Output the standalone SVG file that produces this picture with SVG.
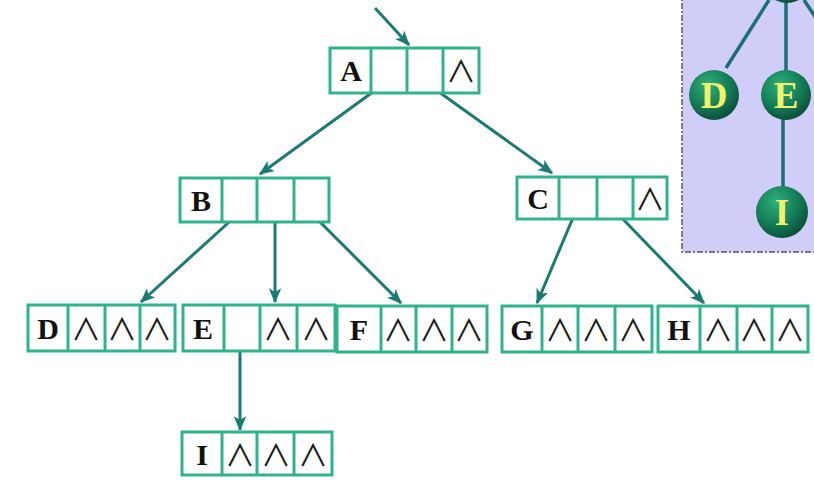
<svg xmlns="http://www.w3.org/2000/svg" width="814" height="490" viewBox="0 0 814 490">
<style>
.box{fill:#fff;stroke:#2fb38d;stroke-width:3}
.div{stroke:#2fb38d;stroke-width:3}
.lbl{font-family:"Liberation Serif",serif;font-weight:bold;font-size:30px;fill:#111;text-anchor:middle}
.nil{font-family:"Noto Sans CJK SC",sans-serif;font-weight:400;font-size:30px;fill:#1a1a1a;text-anchor:middle}
.ar{stroke:#1b7a72;stroke-width:3;fill:none;marker-end:url(#ah)}
.tl{stroke:#1b6f75;stroke-width:3.5}
.ball{fill:url(#g)}
.bl{font-family:"Liberation Serif",serif;font-weight:bold;font-size:37px;fill:#f2f26a;text-anchor:middle}
</style>
<defs>
<marker id="ah" viewBox="0 0 12 10" refX="11" refY="5" markerWidth="5" markerHeight="4.5" orient="auto" markerUnits="strokeWidth">
<path d="M0,0 L12,5 L0,10 L3,5 Z" fill="#1b7a72"/>
</marker>
<radialGradient id="g" cx="0.38" cy="0.3" r="0.75">
<stop offset="0" stop-color="#2fb07a"/>
<stop offset="0.6" stop-color="#137a55"/>
<stop offset="1" stop-color="#0a4b38"/>
</radialGradient>
</defs>
<rect width="814" height="490" fill="#fff"/>
<g id="panel">
<rect x="682" y="-5" width="140" height="257" fill="#d0cef9" stroke="#555" stroke-width="1.5" stroke-dasharray="6,2,2,2"/>
<line class="tl" x1="726" y1="68" x2="769" y2="0"/>
<line class="tl" x1="786" y1="0" x2="786" y2="72"/>
<line class="tl" x1="804" y1="0" x2="816" y2="18"/>
<line class="tl" x1="783" y1="115" x2="783" y2="190"/>
<circle class="ball" cx="787" cy="-22" r="25"/>
<circle class="ball" cx="714" cy="95" r="25"/>
<text class="bl" x="714" y="108">D</text>
<circle class="ball" cx="786" cy="95" r="25"/>
<text class="bl" x="786" y="108">E</text>
<circle class="ball" cx="782" cy="212" r="26"/>
<text class="bl" x="782" y="225">I</text>
</g>
<g id="connectors">
<line class="ar" x1="375" y1="8" x2="409" y2="45"/>
<line class="ar" x1="388" y1="81" x2="260" y2="174"/>
<line class="ar" x1="425" y1="82" x2="552" y2="173"/>
<line class="ar" x1="238" y1="214" x2="141" y2="302"/>
<line class="ar" x1="275" y1="214" x2="275" y2="302"/>
<line class="ar" x1="312" y1="214" x2="401" y2="303"/>
<line class="ar" x1="575" y1="213" x2="537" y2="303"/>
<line class="ar" x1="617" y1="213" x2="704" y2="303"/>
<line class="ar" x1="240" y1="341" x2="240" y2="430"/>
</g>
<g id="A">
<rect class="box" x="330" y="48" width="149" height="45"/>
<line class="div" x1="371" y1="48" x2="371" y2="93"/><line class="div" x1="407" y1="48" x2="407" y2="93"/><line class="div" x1="443" y1="48" x2="443" y2="93"/>
<text class="lbl" x="351" y="81">A</text><text class="nil" x="461" y="82">∧</text>
</g>
<g id="B">
<rect class="box" x="180" y="178" width="149" height="44"/>
<line class="div" x1="222" y1="178" x2="222" y2="222"/><line class="div" x1="257" y1="178" x2="257" y2="222"/><line class="div" x1="294" y1="178" x2="294" y2="222"/>
<text class="lbl" x="201" y="211">B</text>
</g>
<g id="C">
<rect class="box" x="517" y="177" width="150" height="42"/>
<line class="div" x1="559" y1="177" x2="559" y2="219"/><line class="div" x1="597" y1="177" x2="597" y2="219"/><line class="div" x1="633" y1="177" x2="633" y2="219"/>
<text class="lbl" x="538" y="209">C</text><text class="nil" x="650" y="210">∧</text>
</g>
<g id="D">
<rect class="box" x="28" y="305" width="147" height="46"/>
<line class="div" x1="68" y1="305" x2="68" y2="351"/><line class="div" x1="105" y1="305" x2="105" y2="351"/><line class="div" x1="140" y1="305" x2="140" y2="351"/>
<text class="lbl" x="48" y="339">D</text><text class="nil" x="86" y="340">∧</text><text class="nil" x="122" y="340">∧</text><text class="nil" x="157" y="340">∧</text>
</g>
<g id="E">
<rect class="box" x="183" y="305" width="152" height="46"/>
<line class="div" x1="224" y1="305" x2="224" y2="351"/><line class="div" x1="260" y1="305" x2="260" y2="351"/><line class="div" x1="297" y1="305" x2="297" y2="351"/>
<text class="lbl" x="203" y="339">E</text><text class="nil" x="278" y="340">∧</text><text class="nil" x="316" y="340">∧</text>
</g>
<g id="F">
<rect class="box" x="337" y="306" width="150" height="46"/>
<line class="div" x1="381" y1="306" x2="381" y2="352"/><line class="div" x1="416" y1="306" x2="416" y2="352"/><line class="div" x1="452" y1="306" x2="452" y2="352"/>
<text class="lbl" x="359" y="340">F</text><text class="nil" x="398" y="341">∧</text><text class="nil" x="434" y="341">∧</text><text class="nil" x="469" y="341">∧</text>
</g>
<g id="G">
<rect class="box" x="502" y="306" width="150" height="46"/>
<line class="div" x1="542" y1="306" x2="542" y2="352"/><line class="div" x1="578" y1="306" x2="578" y2="352"/><line class="div" x1="615" y1="306" x2="615" y2="352"/>
<text class="lbl" x="522" y="340">G</text><text class="nil" x="560" y="341">∧</text><text class="nil" x="596" y="341">∧</text><text class="nil" x="633" y="341">∧</text>
</g>
<g id="H">
<rect class="box" x="658" y="306" width="150" height="46"/>
<line class="div" x1="700" y1="306" x2="700" y2="352"/><line class="div" x1="737" y1="306" x2="737" y2="352"/><line class="div" x1="772" y1="306" x2="772" y2="352"/>
<text class="lbl" x="679" y="340">H</text><text class="nil" x="718" y="341">∧</text><text class="nil" x="754" y="341">∧</text><text class="nil" x="790" y="341">∧</text>
</g>
<g id="I">
<rect class="box" x="182" y="432" width="150" height="43"/>
<line class="div" x1="222" y1="432" x2="222" y2="475"/><line class="div" x1="257" y1="432" x2="257" y2="475"/><line class="div" x1="294" y1="432" x2="294" y2="475"/>
<text class="lbl" x="202" y="465">I</text><text class="nil" x="240" y="466">∧</text><text class="nil" x="276" y="466">∧</text><text class="nil" x="313" y="466">∧</text>
</g>
</svg>
